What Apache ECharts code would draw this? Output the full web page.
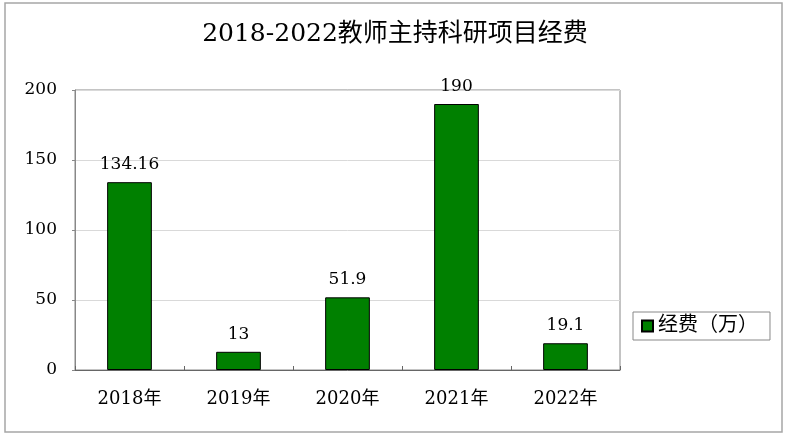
<!DOCTYPE html>
<html>
<head>
<meta charset="utf-8">
<script src="https://cdn.jsdelivr.net/npm/echarts@6/dist/echarts.min.js"></script>
<style>
html,body{margin:0;padding:0;background:#fff;}
#main{width:790px;height:439px;}
</style>
</head>
<body>
<div id="main"></div>
<script>
const titleText = '2018-2022教师主持科研项目经费';
const categories = ['2018年', '2019年', '2020年', '2021年', '2022年'];
const seriesName = '经费（万）';
const values = [134.16, 13, 51.9, 190, 19.1];
const yTicks = [0, 50, 100, 150, 200];

const FONT = '"DejaVu Serif", "Noto Sans CJK SC", serif';
const chart = echarts.init(document.getElementById('main'), null, {renderer: 'canvas'});
chart.setOption({
  animation: false,
  backgroundColor: '#fff',
  graphic: [{
    type: 'rect',
    shape: {x: 5, y: 3, width: 777, height: 429},
    style: {fill: 'none', stroke: '#a6a6a6', lineWidth: 1.5},
    silent: true,
    z: -1
  }],
  title: {
    text: titleText,
    left: 'center',
    top: 17,
    textStyle: {fontFamily: FONT, fontSize: 25, fontWeight: 'normal', color: '#000'}
  },
  legend: {
    data: [seriesName],
    left: 633,
    top: 312,
    orient: 'vertical',
    icon: 'rect',
    itemWidth: 11,
    itemHeight: 11,
    padding: [4, 12, 4, 8],
    borderColor: '#888',
    borderWidth: 1,
    textStyle: {fontFamily: FONT, fontSize: 20, color: '#000'}
  },
  grid: {
    left: 75, right: 170, top: 90, bottom: 69,
    show: true, borderColor: '#888', borderWidth: 1,
    containLabel: false
  },
  xAxis: {
    type: 'category',
    data: categories,
    axisLine: {lineStyle: {color: '#666', width: 1}},
    axisTick: {show: true, inside: true, length: 4, lineStyle: {color: '#666'}},
    axisLabel: {fontFamily: FONT, fontSize: 18, color: '#000', margin: 20}
  },
  yAxis: {
    type: 'value',
    min: yTicks[0],
    max: yTicks[yTicks.length - 1],
    interval: yTicks[1] - yTicks[0],
    axisLine: {show: true, lineStyle: {color: '#888', width: 1}},
    axisTick: {show: true, length: 3, lineStyle: {color: '#888'}},
    splitLine: {lineStyle: {color: '#d9d9d9', width: 1}},
    axisLabel: {fontFamily: FONT, fontSize: 17, color: '#000', margin: 18}
  },
  series: [{
    name: seriesName,
    type: 'bar',
    data: values,
    barWidth: '41%',
    itemStyle: {color: '#008000', borderColor: '#000', borderWidth: 1},
    label: {
      show: true,
      position: 'top',
      distance: 9,
      fontFamily: FONT,
      fontSize: 17,
      color: '#000'
    }
  }]
});
</script>
</body>
</html>
